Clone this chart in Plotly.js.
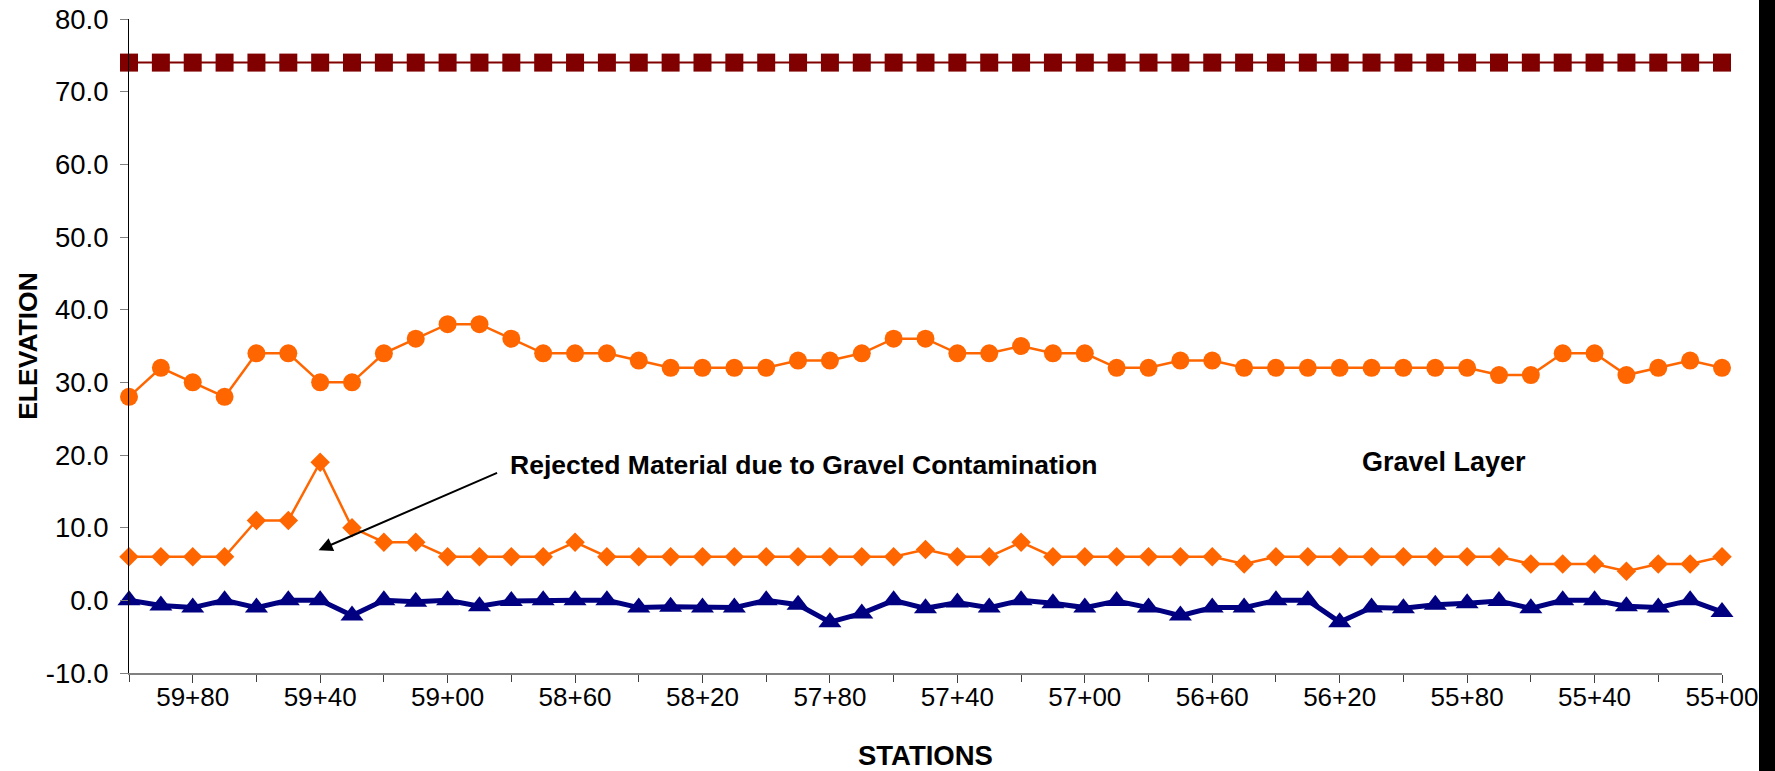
<!DOCTYPE html>
<html>
<head>
<meta charset="utf-8">
<script src="https://cdn.plot.ly/plotly-3.0.1.min.js"></script>
<style>
  html, body { margin: 0; padding: 0; background: #ffffff; }
  #chart { width: 1775px; height: 771px; position: relative; }
  #edge { position: absolute; top: 0; right: 0; width: 16px; height: 771px; background: #000000; }
</style>
</head>
<body>
<div id="chart"></div>
<div id="edge"></div>
<script>
// ---- data ----
const stations = ["60+00","59+90","59+80","59+70","59+60","59+50","59+40","59+30","59+20","59+10",
  "59+00","58+90","58+80","58+70","58+60","58+50","58+40","58+30","58+20","58+10",
  "58+00","57+90","57+80","57+70","57+60","57+50","57+40","57+30","57+20","57+10",
  "57+00","56+90","56+80","56+70","56+60","56+50","56+40","56+30","56+20","56+10",
  "56+00","55+90","55+80","55+70","55+60","55+50","55+40","55+30","55+20","55+10","55+00"];

const topElevation = [74,74,74,74,74,74,74,74,74,74,74,74,74,74,74,74,74,74,74,74,
  74,74,74,74,74,74,74,74,74,74,74,74,74,74,74,74,74,74,74,74,
  74,74,74,74,74,74,74,74,74,74,74];

const upperLayer = [28,32,30,28,34,34,30,30,34,36,38,38,36,34,34,34,33,32,32,32,
  32,33,33,34,36,36,34,34,35,34,34,32,32,33,33,32,32,32,32,32,
  32,32,32,31,31,34,34,31,32,33,32];

const gravelLayer = [6,6,6,6,11,11,19,10,8,8,6,6,6,6,8,6,6,6,6,6,
  6,6,6,6,6,7,6,6,8,6,6,6,6,6,6,5,6,6,6,6,
  6,6,6,6,5,5,5,4,5,5,6];

const bottomLayer = [0,-0.7,-1.0,0,-1.0,0,0,-2.1,0,-0.2,0,-0.8,-0.1,0,0,0,-1.0,-0.9,-1.0,-1.0,
  0,-0.6,-3.0,-1.8,0,-1.1,-0.3,-1.0,0,-0.4,-1.0,-0.1,-1.0,-2.1,-1.0,-1.0,0,0,-3.0,-1.0,
  -1.1,-0.6,-0.4,-0.1,-1.1,0,0,-0.8,-1.0,0,-1.6];

const tickLabels = ["59+80","59+40","59+00","58+60","58+20","57+80","57+40","57+00","56+60","56+20","55+80","55+40","55+00"];
const crossTickStations = ["60+00","59+60","59+20","58+80","58+40","58+00","57+60","57+20","56+80","56+40","56+00","55+60","55+20"];
const yTicks = [-10,0,10,20,30,40,50,60,70,80];

const rejectedText = "Rejected Material due to Gravel Contamination";
const gravelText = "Gravel Layer";
const rejectedPoint = {station: 5.95, elev: 6.9};

// ---- build ----
const xIdx = stations.map((s, i) => i);
const labelIdx = tickLabels.map(l => stations.indexOf(l));
const crossIdx = crossTickStations.map(l => stations.indexOf(l));
const FONT = "Arial, 'Liberation Sans', sans-serif";

function series(y, color, symbol, size, lw) {
  return {
    x: xIdx, y: y, text: stations, type: 'scatter', mode: 'lines+markers',
    line: {color: color, width: lw},
    marker: {color: color, symbol: symbol, size: size, line: {width: 0}},
    cliponaxis: false, hoverinfo: 'text+y', showlegend: false
  };
}

const traces = [
  series(topElevation, '#800000', 'square', 18, 2),
  series(upperLayer, '#FF6600', 'circle', 18, 2.5),
  series(gravelLayer, '#FF6600', 'diamond', 15, 2.5),
  series(bottomLayer, '#000080', 'triangle-up', 20, 5)
];

const layout = {
  width: 1775, height: 771,
  margin: {l: 129, r: 53, t: 19, b: 98},
  paper_bgcolor: '#ffffff', plot_bgcolor: '#ffffff',
  font: {family: FONT, color: '#000000', size: 26},
  showlegend: false,
  xaxis: {
    range: [0, 50], showgrid: false, zeroline: false,
    showline: true, linecolor: '#808080', linewidth: 1.5,
    tickmode: 'array', tickvals: labelIdx, ticktext: tickLabels,
    ticks: 'outside', ticklen: 8, tickwidth: 1, tickcolor: '#404040',
    ticklabelstandoff: -8,
    tickfont: {family: FONT, size: 26, color: '#000000'},
    minor: {tickmode: 'array', tickvals: crossIdx, ticks: 'outside', ticklen: 7, tickwidth: 1, tickcolor: '#404040', showgrid: false},
    title: {text: 'STATIONS', font: {family: FONT, size: 27.5, weight: 'bold', color: '#000000'}, standoff: 35}
  },
  xaxis2: {
    overlaying: 'x', anchor: 'y', side: 'bottom', range: [0, 50],
    showgrid: false, zeroline: false, showline: false,
    tickmode: 'array', tickvals: crossIdx, ticks: 'inside', ticklen: 7, tickwidth: 1, tickcolor: '#404040',
    showticklabels: false
  },
  yaxis: {
    range: [-10, 80], showgrid: false, zeroline: false,
    showline: true, linecolor: '#000000', linewidth: 1,
    tickmode: 'array', tickvals: yTicks, ticktext: yTicks.map(v => v.toFixed(1)),
    ticks: 'outside', ticklen: 8, tickwidth: 1, tickcolor: '#808080',
    ticklabelstandoff: 6,
    tickfont: {family: FONT, size: 27.5, color: '#000000'},
    title: {text: 'ELEVATION', font: {family: FONT, size: 26.5, weight: 'bold', color: '#000000'}, standoff: 0}
  },
  annotations: [
    {x: rejectedPoint.station, y: rejectedPoint.elev, xref: 'x', yref: 'y',
     text: '', showarrow: true, ax: 180, ay: -78, arrowhead: 2, arrowsize: 1.4, arrowwidth: 2, arrowcolor: '#000000', standoff: 0},
    {x: 21.18, y: 18.6, xref: 'x', yref: 'y', text: rejectedText, showarrow: false,
     font: {family: FONT, size: 26.5, weight: 'bold', color: '#000000'}},
    {x: 41.26, y: 19.0, xref: 'x', yref: 'y', text: gravelText, showarrow: false,
     font: {family: FONT, size: 27, weight: 'bold', color: '#000000'}}
  ]
};

Plotly.newPlot('chart', traces, layout, {displayModeBar: false, staticPlot: true});
</script>
</body>
</html>
